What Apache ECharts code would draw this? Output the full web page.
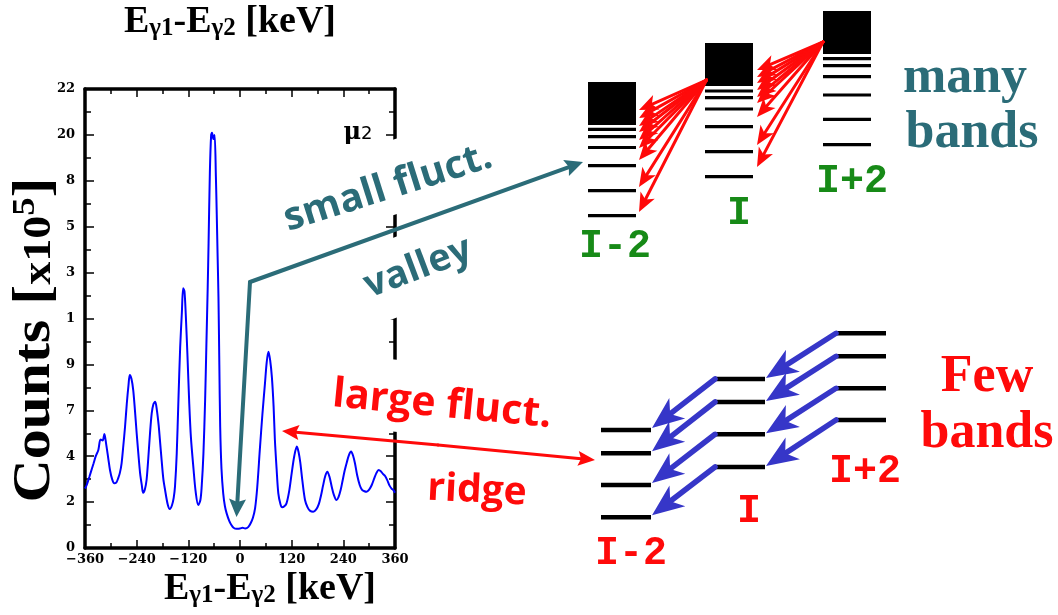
<!DOCTYPE html>
<html><head><meta charset="utf-8">
<script src="https://cdn.jsdelivr.net/npm/echarts@6/dist/echarts.min.js"></script>
<style>html,body{margin:0;padding:0;background:#fff}#c{width:1058px;height:615px}</style>
</head><body><div id="c"></div>
<script>
// ---------- spectrum data (E_gamma1 - E_gamma2 [keV] vs counts, plot units) ----------
const energies = [
-360,-356,-350,-344,-340,-335,-329,-324,-319,-315,
-311,-306,-302,-297,-292,-287,-283,-279,-275,-271,
-267,-263,-259,-256,-252,-248,-244,-240,-236,-232,
-228,-225,-221,-217,-213,-209,-205,-201,-197,-193,
-189,-186,-182,-178,-174,-168,-163,-158,-154,-151,
-147,-143,-139,-135,-132,-129,-126,-122,-118,-114,
-108,-103,-97,-92,-89,-85,-81,-78,-75,-73,
-70,-67,-65,-62,-59,-56,-54,-52,-50,-48,
-46,-43,-39,-35,-31,-25,-20,-15,-8,0,
6,12,19,25,30,35,40,46,52,58,
62,66,70,74,78,81,85,89,94,98,
103,108,114,120,126,132,136,140,145,151,
157,163,170,177,183,188,193,198,203,208,
213,218,224,229,234,238,243,248,253,258,
263,267,272,278,283,289,294,300,306,312,
317,322,327,332,337,342,347,352,356,360];
const counts = [
2.85,3.02,3.4,3.8,4.06,4.4,4.7,5.2,5.15,5.46,
5.0,4.3,3.74,3.3,3.1,3.15,3.34,3.6,4.06,4.9,
5.81,6.9,7.8,8.29,8.1,7.57,6.6,5.5,4.5,3.58,
3.0,2.65,2.8,3.26,4.3,5.5,6.46,6.9,7.01,6.6,
5.9,5.18,4.2,3.3,2.78,2.1,1.87,2.05,2.4,2.94,
4.5,7.1,9.6,11.3,12.45,12.3,11.2,9.2,7.0,5.3,
3.8,2.7,2.06,2.3,2.94,4.5,7.09,9.8,12.5,14.6,
18.0,19.8,19.9,19.6,19.8,17.8,16.0,14.0,12.0,8.8,
5.8,3.8,2.62,2.0,1.66,1.3,1.1,0.97,0.92,0.93,
0.97,0.94,1.0,1.2,1.45,1.9,2.9,4.7,6.4,7.89,
8.9,9.41,9.0,8.2,6.8,5.2,3.8,2.62,2.1,1.95,
2.0,2.14,2.7,3.58,4.4,4.86,4.6,4.1,3.2,2.3,
1.95,1.78,1.74,1.85,2.1,2.5,3.0,3.45,3.66,3.4,
2.94,2.55,2.3,2.45,2.8,3.2,3.7,4.1,4.45,4.62,
4.4,4.06,3.5,3.02,2.8,2.72,2.7,2.8,3.02,3.35,
3.6,3.74,3.68,3.55,3.45,3.25,3.0,2.85,2.78,2.65];
const xTickLabels = ['\u2212360','\u2212240','\u2212120','0','120','240','360'];
const yTickLabels = ['0','2','4','7','9','1','3','5','8','20','22'];

// ---------- level schemes (overlay units) ----------
const manyColLeft = [588, 705, 823];
const manyBoxTop = [82, 43, 11];
const manyBoxBottom = [125, 86, 54];
const manyLevelsIm2 = [129.3, 136.7, 147.5, 165.7, 190.7, 215.7];
const manyLevelsI   = [91, 97.7, 109, 126.7, 151.7, 176.7];
const manyLevelsIp2 = [58.7, 65.7, 76.7, 95, 119.3, 144.7];
const fanAFrom = [706.5, 80];
const fanATipX = 639;
const fanATipY = [110, 118, 126, 132, 140, 148, 160, 187, 212];
const fanBFrom = [823, 42];
const fanBTipX = 757;
const fanBTipY = [70, 77, 83, 90, 97, 103, 117, 145, 167];

const fewColLeft = [601, 715, 836];
const fewLevelsIm2 = [430, 453.3, 485, 517.3];
const fewLevelsI   = [379, 402, 434.3, 467];
const fewLevelsIp2 = [333.3, 356.3, 388.3, 420];

const tealPath = [[250, 282], [236.5, 517], [583, 162]];
const redPath = [[438, 445], [282, 431], [595, 460]];

// ---------- build ----------
const MANY_W = 48, FEW_W = 50;
const spectrum = energies.map((e, i) => [e, counts[i]]);
const manyLevelRows = [];
[manyLevelsIm2, manyLevelsI, manyLevelsIp2].forEach((lv, c) =>
  lv.forEach(y => manyLevelRows.push([manyColLeft[c], manyColLeft[c] + MANY_W, y])));
const manyBoxRows = manyColLeft.map((x, c) => [x, manyBoxTop[c], x + MANY_W, manyBoxBottom[c]]);
const fanRows = fanATipY.map(y => [fanAFrom[0], fanAFrom[1], fanATipX, y])
  .concat(fanBTipY.map(y => [fanBFrom[0], fanBFrom[1], fanBTipX, y]));
const fewLevelRows = [];
[fewLevelsIm2, fewLevelsI, fewLevelsIp2].forEach((lv, c) =>
  lv.forEach(y => fewLevelRows.push([fewColLeft[c], fewColLeft[c] + FEW_W, y])));
const blueRows = fewLevelsI.map((y, i) => [fewColLeft[1], y, fewColLeft[0] + FEW_W + 1, fewLevelsIm2[i] - 2])
  .concat(fewLevelsIp2.map((y, i) => [fewColLeft[2], y, fewColLeft[1] + FEW_W + 1, fewLevelsI[i] - 1]));
const tealRows = [[tealPath[0][0], tealPath[0][1], tealPath[1][0], tealPath[1][1]],
                  [tealPath[0][0], tealPath[0][1], tealPath[2][0], tealPath[2][1]]];
const redRows = [[redPath[0][0], redPath[0][1], redPath[1][0], redPath[1][1]],
                 [redPath[0][0], redPath[0][1], redPath[2][0], redPath[2][1]]];

function levelRender(width) {
  return function (params, api) {
    const a = api.coord([api.value(0), api.value(2)]);
    const b = api.coord([api.value(1), api.value(2)]);
    return {type: 'line', shape: {x1: a[0], y1: a[1], x2: b[0], y2: b[1]},
            style: {stroke: '#000', lineWidth: width}};
  };
}
function boxRender(params, api) {
  const a = api.coord([api.value(0), api.value(1)]);
  const b = api.coord([api.value(2), api.value(3)]);
  return {type: 'rect', shape: {x: a[0], y: a[1], width: b[0] - a[0], height: b[1] - a[1]},
          style: {fill: '#000'}};
}
function arrowRender(color, lw, L, W, notch) {
  return function (params, api) {
    const p1 = api.coord([api.value(0), api.value(1)]);
    const p2 = api.coord([api.value(2), api.value(3)]);
    const dx = p2[0] - p1[0], dy = p2[1] - p1[1];
    const len = Math.hypot(dx, dy), ux = dx / len, uy = dy / len, nx = -uy, ny = ux;
    const bx = p2[0] - ux * L, by = p2[1] - uy * L;
    const mx = p2[0] - ux * (L - notch), my = p2[1] - uy * (L - notch);
    return {type: 'group', children: [
      {type: 'line', shape: {x1: p1[0], y1: p1[1], x2: mx, y2: my},
       style: {stroke: color, lineWidth: lw, lineCap: 'round'}},
      {type: 'polygon', shape: {points: [[p2[0], p2[1]], [bx + nx * W, by + ny * W], [mx, my], [bx - nx * W, by - ny * W]]},
       style: {fill: color}}
    ]};
  };
}
function overlay(name, data, render, z, enc) {
  return {name: name, type: 'custom', xAxisIndex: 2, yAxisIndex: 2, data: data, z: z,
          renderItem: render, encode: enc || {x: [0, 2], y: [1, 3]}, silent: true, animation: false};
}

const TEAL = '#2b6c78', RED = '#ff0a0a', GREEN = '#178a17', BLUE = '#3636c8';
const comic = "'Open Sans','Lato',sans-serif";
const serif = "'Liberation Serif','Times New Roman',serif";
const mono = "'Liberation Mono','Courier New',monospace";

const tickStyle = {color: '#000', width: 1.5};
function xAx(pos, labels) {
  return {gridIndex: 0, type: 'value', min: -360, max: 360, interval: 120, position: pos,
    axisLine: {show: true, onZero: false, lineStyle: {color: '#000', width: 3.5}},
    axisTick: {show: true, inside: true, length: 8, lineStyle: tickStyle},
    minorTick: {show: true, splitNumber: 2, length: 5, lineStyle: tickStyle},
    splitLine: {show: false}, minorSplitLine: {show: false},
    axisLabel: {show: labels, margin: 5, color: '#000', fontFamily: 'DejaVu Serif', fontWeight: 'bold', fontSize: 13,
      formatter: v => xTickLabels[Math.round((v + 360) / 120)]}};
}
function yAx(pos, labels) {
  return {gridIndex: 0, type: 'value', min: 0, max: 22, interval: 2.2, position: pos,
    axisLine: {show: true, onZero: false, lineStyle: {color: '#000', width: 3.5}},
    axisTick: {show: true, inside: true, length: 9, lineStyle: tickStyle},
    minorTick: {show: true, splitNumber: 2, length: 6, lineStyle: tickStyle},
    splitLine: {show: false}, minorSplitLine: {show: false},
    axisLabel: {show: labels, margin: 10, color: '#000', fontFamily: 'DejaVu Serif', fontWeight: 'bold', fontSize: 13,
      formatter: v => yTickLabels[Math.round(v / 2.2)]}};
}

const chart = echarts.init(document.getElementById('c'), null, {renderer: 'canvas'});
chart.setOption({
  backgroundColor: '#fff',
  animation: false,
  grid: [
    {left: 85, top: 89, width: 310, height: 459, show: true, backgroundColor: '#fff', borderWidth: 0},
    {left: 0, top: 0, width: 1058, height: 615}
  ],
  xAxis: [xAx('bottom', true), xAx('top', false),
    {gridIndex: 1, type: 'value', min: 0, max: 1058, show: false}],
  yAxis: [yAx('left', true), yAx('right', false),
    {gridIndex: 1, type: 'value', min: 0, max: 615, inverse: true, show: false}],
  series: [
    {name: 'counts', type: 'line', xAxisIndex: 0, yAxisIndex: 0, data: spectrum, showSymbol: false,
     smooth: 0.3, lineStyle: {color: '#0000ff', width: 2}, z: 3, silent: true},
    overlay('manyLevels', manyLevelRows, levelRender(3.2), 40, {x: [0, 1], y: 2}),
    overlay('manyBoxes', manyBoxRows, boxRender, 40),
    overlay('fan', fanRows, arrowRender(RED, 3, 19, 8, 5), 50),
    overlay('fewLevels', fewLevelRows, levelRender(4.5), 40, {x: [0, 1], y: 2}),
    overlay('blue', blueRows, arrowRender(BLUE, 5.5, 32, 13, 9), 50),
    overlay('teal', tealRows, arrowRender(TEAL, 4, 18, 8.5, 3), 50),
    overlay('red', redRows, arrowRender(RED, 3, 17, 7.5, 3), 50)
  ],
  graphic: [
    {type: 'rect', x: 385, y: 180, rotation: 0.305, shape: {x: -130, y: -36, width: 260, height: 72}, style: {fill: '#fff'}, z: 10},
    {type: 'rect', x: 410, y: 272, rotation: 0.36, shape: {x: -100, y: -38, width: 200, height: 76}, style: {fill: '#fff'}, z: 10},
    {type: 'rect', x: 440, y: 400, rotation: -0.096, shape: {x: -130, y: -36, width: 260, height: 72}, style: {fill: '#fff'}, z: 10},
    {type: 'text', x: 230, y: 3, z: 100, style: {
      text: '{m|E}{s|\u03b31}{m|-E}{s|\u03b32}{m| [keV]}', align: 'center', verticalAlign: 'top',
      rich: {m: {fontFamily: serif, fontWeight: 'bold', fontSize: 38, lineHeight: 38, verticalAlign: 'top', fill: '#000'},
             s: {fontFamily: serif, fontWeight: 'bold', fontSize: 25, lineHeight: 25, padding: [22, 0, 0, 0], verticalAlign: 'bottom', fill: '#000'}}}},
    {type: 'text', x: 270, y: 570, z: 100, style: {
      text: '{m|E}{s|\u03b31}{m|-E}{s|\u03b32}{m| [keV]}', align: 'center', verticalAlign: 'top',
      rich: {m: {fontFamily: serif, fontWeight: 'bold', fontSize: 38, lineHeight: 38, verticalAlign: 'top', fill: '#000'},
             s: {fontFamily: serif, fontWeight: 'bold', fontSize: 25, lineHeight: 25, padding: [22, 0, 0, 0], verticalAlign: 'bottom', fill: '#000'}}}},
    {type: 'text', x: 36, y: 340, rotation: Math.PI / 2, scaleX: 1.15, z: 100, style: {
      text: '{m|Counts [}{k|x10}{p|5}{m|]}', align: 'center', verticalAlign: 'middle',
      rich: {m: {fontFamily: serif, fontWeight: 'bold', fontSize: 52, lineHeight: 52, verticalAlign: 'bottom', fill: '#000'},
             k: {fontFamily: serif, fontWeight: 'bold', fontSize: 40, lineHeight: 40, padding: [0, 0, 2, 0], verticalAlign: 'bottom', fill: '#000'},
             p: {fontFamily: serif, fontWeight: 'bold', fontSize: 32, lineHeight: 32, padding: [0, 0, 22, 0], verticalAlign: 'top', fill: '#000'}}}},
    {type: 'text', x: 358, y: 133, z: 100, style: {
      text: '{a|\u03bc}{b|2}', align: 'center', verticalAlign: 'middle',
      rich: {a: {fontFamily: 'DejaVu Serif', fontWeight: 'bold', fontSize: 24, lineHeight: 24, verticalAlign: 'bottom', fill: '#000'},
             b: {fontFamily: 'DejaVu Sans', fontSize: 18, lineHeight: 18, padding: [0, 0, 2, 0], verticalAlign: 'bottom', fill: '#000'}}}},
    {type: 'text', x: 388, y: 188, rotation: 0.305, z: 100, style: {text: 'small fluct.', align: 'center', verticalAlign: 'middle',
      fontFamily: comic, fontWeight: 'bold', fontSize: 39, fill: TEAL}},
    {type: 'text', x: 418, y: 268, rotation: 0.36, z: 100, style: {text: 'valley', align: 'center', verticalAlign: 'middle',
      fontFamily: comic, fontWeight: 'bold', fontSize: 38, fill: TEAL}},
    {type: 'text', x: 442, y: 405, rotation: -0.096, z: 100, style: {text: 'large fluct.', align: 'center', verticalAlign: 'middle',
      fontFamily: comic, fontWeight: 'bold', fontSize: 41, fill: RED}},
    {type: 'text', x: 477, y: 491, rotation: -0.05, z: 100, style: {text: 'ridge', align: 'center', verticalAlign: 'middle',
      fontFamily: comic, fontWeight: 'bold', fontSize: 39, fill: RED}},
    {type: 'text', x: 965, y: 79, z: 100, style: {text: 'many', align: 'center', verticalAlign: 'middle',
      fontFamily: serif, fontWeight: 'bold', fontSize: 52, fill: TEAL}},
    {type: 'text', x: 972, y: 134, z: 100, style: {text: 'bands', align: 'center', verticalAlign: 'middle',
      fontFamily: serif, fontWeight: 'bold', fontSize: 52, fill: TEAL}},
    {type: 'text', x: 987, y: 378, z: 100, style: {text: 'Few', align: 'center', verticalAlign: 'middle',
      fontFamily: serif, fontWeight: 'bold', fontSize: 52, fill: RED}},
    {type: 'text', x: 987, y: 434, z: 100, style: {text: 'bands', align: 'center', verticalAlign: 'middle',
      fontFamily: serif, fontWeight: 'bold', fontSize: 52, fill: RED}},
    {type: 'text', x: 615, y: 247, z: 100, style: {text: 'I-2', align: 'center', verticalAlign: 'middle',
      fontFamily: mono, fontWeight: 'bold', fontSize: 40, fill: GREEN}},
    {type: 'text', x: 739, y: 214, z: 100, style: {text: 'I', align: 'center', verticalAlign: 'middle',
      fontFamily: mono, fontWeight: 'bold', fontSize: 40, fill: GREEN}},
    {type: 'text', x: 852, y: 182, z: 100, style: {text: 'I+2', align: 'center', verticalAlign: 'middle',
      fontFamily: mono, fontWeight: 'bold', fontSize: 40, fill: GREEN}},
    {type: 'text', x: 631, y: 554, z: 100, style: {text: 'I-2', align: 'center', verticalAlign: 'middle',
      fontFamily: mono, fontWeight: 'bold', fontSize: 40, fill: RED}},
    {type: 'text', x: 749, y: 512, z: 100, style: {text: 'I', align: 'center', verticalAlign: 'middle',
      fontFamily: mono, fontWeight: 'bold', fontSize: 40, fill: RED}},
    {type: 'text', x: 865, y: 472, z: 100, style: {text: 'I+2', align: 'center', verticalAlign: 'middle',
      fontFamily: mono, fontWeight: 'bold', fontSize: 40, fill: RED}}
  ]
});
</script>
</body></html>
